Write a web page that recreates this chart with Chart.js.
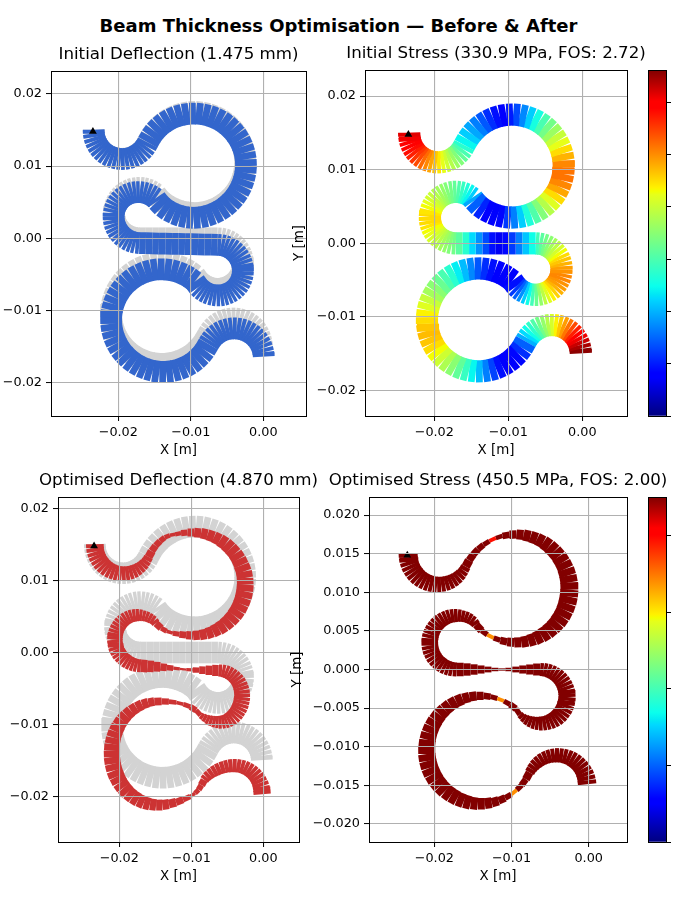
<!DOCTYPE html>
<html>
<head>
<meta charset="utf-8">
<title>Beam Thickness Optimisation</title>
<script src="https://cdn.jsdelivr.net/npm/chart.js@4"></script>
<style>
    html, body { margin: 0; padding: 0; background: #fff; overflow: hidden; }
    #page { position: relative; width: 675px; height: 900px; overflow: hidden; }
    #page canvas { position: absolute; }
    #suptitle {
        position: absolute; left: 0; width: 677px; top: 15px; text-align: center;
        font: bold 18px "DejaVu Sans"; color: #000; white-space: nowrap;
    }
</style>
</head>
<body>
<div id="page"><div id="suptitle">Beam Thickness Optimisation — Before &amp; After</div></div>
<script>
// all beam values in mm, one row per bend of the spring
const baseX = [
    -23.40,-23.38,-23.30,-23.15,-22.94,-22.67,-22.35,-21.98,-21.57,-21.12,-20.64,-20.14,-19.64,-19.13,-18.62,-18.13,-17.67,-17.24,-16.84,-16.49,-16.19,-15.93,
    -15.49,-14.96,-14.34,-13.64,-12.87,-12.04,-11.17,-10.27,-9.35,-8.44,-7.55,-6.69,-5.87,-5.12,-4.45,-3.86,-3.37,-2.98,-2.70,-2.54,-2.50,-2.58,-2.78,-3.09,-3.51,-4.04,-4.66,-5.36,-6.13,-6.96,-7.83,-8.73,-9.65,-10.56,-11.45,-12.31,-13.13,-13.88,-14.60,
    -14.87,-15.25,-15.65,-16.08,-16.53,-16.98,-17.45,-17.91,-18.34,-18.76,-19.16,-19.51,-19.82,-20.09,-20.30,-20.46,-20.56,-20.60,-20.58,-20.50,-20.36,-20.16,-19.91,-19.61,-19.26,-18.88,-18.47,-18.04,-17.59,-17.10,
    -16.20,-15.30,-14.40,-13.50,-12.60,-11.70,-10.80,-9.90,-9.00,-8.10,-7.20,-6.30,
    -5.84,-5.38,-4.94,-4.53,-4.15,-3.80,-3.50,-3.24,-3.05,-2.90,-2.82,-2.80,-2.84,-2.94,-3.10,-3.32,-3.59,-3.90,-4.26,-4.66,-5.08,-5.52,-5.98,-6.45,-6.91,-7.36,-7.79,-8.20,-8.57,-8.91,
    -9.44,-10.18,-10.98,-11.83,-12.71,-13.62,-14.54,-15.44,-16.33,-17.17,-17.96,-18.67,-19.32,-19.86,-20.31,-20.65,-20.88,-20.99,-20.98,-20.85,-20.60,-20.24,-19.78,-19.21,-18.56,-17.82,-17.02,-16.17,-15.29,-14.38,-13.46,-12.56,-11.67,-10.83,-10.04,-9.33,-8.68,-8.14,-7.65,
    -7.39,-7.08,-6.72,-6.31,-5.86,-5.38,-4.88,-4.37,-3.85,-3.33,-2.83,-2.35,-1.90,-1.49,-1.13,-0.82,-0.57,-0.38,-0.26,-0.20,
];
const baseY = [
    15.04,14.53,14.02,13.53,13.07,12.64,12.24,11.89,11.59,11.35,11.17,11.05,11.00,11.02,11.10,11.25,11.46,11.73,12.05,12.42,12.83,13.33,
    14.13,14.88,15.55,16.14,16.63,17.02,17.30,17.46,17.50,17.42,17.22,16.91,16.49,15.96,15.34,14.64,13.87,13.04,12.17,11.27,10.35,9.44,8.55,7.69,6.87,6.12,5.45,4.86,4.37,3.98,3.70,3.54,3.50,3.58,3.78,4.09,4.51,5.04,5.80,
    6.20,6.47,6.69,6.85,6.95,7.00,6.98,6.91,6.77,6.58,6.33,6.04,5.70,5.32,4.91,4.48,4.03,3.57,3.11,2.65,2.22,1.80,1.41,1.06,0.75,0.49,0.28,0.13,0.03,0.00,
    0,0,0,0,0,0,0,0,0,0,0,0,
    -0.03,-0.12,-0.27,-0.48,-0.74,-1.05,-1.40,-1.79,-2.21,-2.65,-3.11,-3.57,-4.04,-4.49,-4.92,-5.33,-5.71,-6.05,-6.35,-6.59,-6.78,-6.91,-6.99,-7.00,-6.95,-6.84,-6.67,-6.44,-6.17,-5.84,
    -5.08,-4.54,-4.09,-3.75,-3.52,-3.41,-3.42,-3.55,-3.80,-4.16,-4.62,-5.19,-5.84,-6.58,-7.38,-8.23,-9.11,-10.02,-10.94,-11.84,-12.73,-13.57,-14.36,-15.07,-15.72,-16.26,-16.71,-17.05,-17.28,-17.39,-17.38,-17.25,-17.00,-16.64,-16.18,-15.61,-14.96,-14.22,-13.35,
    -12.90,-12.48,-12.11,-11.79,-11.52,-11.32,-11.18,-11.11,-11.11,-11.18,-11.31,-11.52,-11.78,-12.10,-12.47,-12.89,-13.35,-13.83,-14.34,-14.86,
];
const initDx = [
    0,0,0,0,0,0,0,0,0,0,0,0,0,0,0,0,0,0,0,0,0,0,
    0,0,.01,.01,.02,.03,.04,.05,.06,.07,.08,.09,.1,.1,.11,.11,.12,.12,.12,.12,.12,.12,.11,.11,.1,.09,.08,.07,.06,.05,.04,.03,.02,.01,0,0,0,0,0,
    0,-.02,-.03,-.04,-.05,-.06,-.06,-.07,-.07,-.08,-.08,-.08,-.08,-.07,-.07,-.06,-.06,-.05,-.05,-.04,-.03,-.02,-.02,-.01,0,0,0,0,0,0,
    0,0,0,0,0,0,0,0,0,0,0,0,
    0,0,0,0,0,0,0,0,0,0,0,0,0,0,0,0,0,0,0,0,0,0,0,0,0,0,0,0,0,0,
    0,0,0,0,0,0,0,0,0,0,0,0,0,0,0,0,0,0,0,0,0,.01,.01,.02,.02,.03,.03,.04,.04,.05,.05,.06,.06,.07,.07,.08,.08,.09,.09,
    .1,.1,.11,.12,.13,.14,.15,.16,.17,.18,.19,.2,.21,.22,.23,.24,.25,.25,.26,.26,
];
const initDy = [
    0,0,-.01,-.01,-.01,-.02,-.02,-.02,-.02,-.02,-.02,-.02,-.02,-.03,-.03,-.03,-.03,-.03,-.04,-.04,-.05,-.05,
    -.06,-.07,-.09,-.11,-.13,-.15,-.18,-.2,-.22,-.24,-.25,-.26,-.27,-.28,-.29,-.3,-.31,-.32,-.33,-.34,-.35,-.37,-.39,-.41,-.43,-.46,-.49,-.52,-.55,-.58,-.61,-.64,-.66,-.67,-.68,-.68,-.68,-.67,-.66,
    -.65,-.64,-.63,-.62,-.6,-.59,-.58,-.57,-.55,-.55,-.54,-.53,-.53,-.53,-.53,-.53,-.54,-.55,-.55,-.56,-.57,-.58,-.59,-.6,-.61,-.62,-.63,-.64,-.65,-.66,
    -.68,-.7,-.72,-.74,-.76,-.78,-.8,-.82,-.84,-.86,-.88,-.9,
    -.9,-.91,-.92,-.93,-.94,-.95,-.96,-.96,-.97,-.97,-.98,-.98,-.98,-.98,-.98,-.98,-.98,-.97,-.96,-.95,-.94,-.93,-.92,-.92,-.91,-.91,-.9,-.9,-.9,-.9,
    -.9,-.9,-.9,-.89,-.89,-.89,-.88,-.88,-.88,-.88,-.88,-.88,-.88,-.88,-.88,-.88,-.88,-.89,-.9,-.91,-.92,-.94,-.96,-.98,-1,-1.02,-1.04,-1.06,-1.08,-1.1,-1.12,-1.14,-1.16,-1.18,-1.2,-1.22,-1.24,-1.26,-1.28,
    -1.29,-1.3,-1.31,-1.32,-1.33,-1.34,-1.35,-1.36,-1.37,-1.38,-1.39,-1.4,-1.41,-1.42,-1.43,-1.43,-1.44,-1.44,-1.45,-1.45,
];
const optDx = [
    0,0,0,0,0,0,0,0,0,0,0,0,0,0,0,0,0,0,0,0,0,0,
    0,0,0,-.05,-.1,-.2,-.25,-.25,-.25,-.2,-.2,-.15,-.15,-.1,-.1,-.05,-.05,-.05,0,0,0,0,0,0,0,0,0,0,-.05,-.05,-.05,-.1,-.1,-.15,-.2,-.25,-.3,-.3,-.3,
    -.3,-.3,-.3,-.3,-.28,-.27,-.26,-.24,-.22,-.2,-.18,-.15,-.12,-.1,-.08,-.05,-.03,-.02,0,0,0,.02,.03,.05,.07,.1,.1,.1,.1,.1,
    .1,.1,.1,.1,.1,.1,.1,.1,.1,.1,.1,.1,
    .1,.08,.06,.04,.02,0,-.02,-.05,-.08,-.1,-.12,-.14,-.16,-.16,-.14,-.12,-.1,-.05,0,.05,.1,.15,.2,.25,.3,.3,.3,.3,.25,.2,
    .1,.05,-.1,-.25,-.4,-.5,-.6,-.55,-.5,-.45,-.4,-.35,-.3,-.25,-.2,-.15,-.1,-.07,-.05,-.05,-.08,-.1,-.15,-.2,-.25,-.3,-.35,-.4,-.45,-.5,-.55,-.55,-.45,-.3,-.1,-.15,-.3,-.45,-.55,
    -.5,-.4,-.3,-.2,-.1,0,.05,.1,.15,.17,.17,.17,.17,.15,.14,.12,.1,.08,.06,.05,
];
const optDy = [
    0,0,-.01,-.01,-.01,-.02,-.02,-.02,-.03,-.03,-.03,-.04,-.04,-.04,-.04,-.05,-.05,-.05,-.05,-.05,-.05,-.05,
    -.05,-.05,-.08,-.15,-.35,-.6,-.72,-.78,-.83,-.84,-.85,-.86,-.87,-.88,-.89,-.9,-.9,-.91,-.92,-.92,-.92,-.93,-.94,-.95,-.97,-.99,-1.01,-1.03,-1.06,-1.08,-1.1,-1.12,-1.14,-1.17,-1.25,-1.4,-1.55,-1.65,-1.75,
    -1.78,-1.8,-1.8,-1.8,-1.8,-1.8,-1.8,-1.8,-1.8,-1.8,-1.8,-1.8,-1.8,-1.8,-1.8,-1.8,-1.8,-1.8,-1.8,-1.8,-1.8,-1.8,-1.8,-1.8,-1.81,-1.82,-1.83,-1.84,-1.85,-1.85,
    -1.9,-1.95,-2,-2.08,-2.18,-2.28,-2.38,-2.42,-2.45,-2.47,-2.49,-2.5,
    -2.5,-2.5,-2.52,-2.53,-2.54,-2.55,-2.56,-2.57,-2.58,-2.58,-2.6,-2.6,-2.6,-2.6,-2.62,-2.62,-2.63,-2.64,-2.65,-2.66,-2.67,-2.68,-2.68,-2.68,-2.7,-2.72,-2.75,-2.78,-2.82,-2.88,
    -2.95,-3,-3.1,-3.2,-3.3,-3.38,-3.4,-3.42,-3.45,-3.48,-3.5,-3.52,-3.55,-3.58,-3.6,-3.6,-3.6,-3.6,-3.6,-3.62,-3.65,-3.68,-3.7,-3.72,-3.74,-3.76,-3.78,-3.8,-3.8,-3.8,-3.8,-3.8,-3.8,-3.8,-3.82,-3.95,-4.1,-4.2,-4.35,
    -4.4,-4.45,-4.5,-4.53,-4.55,-4.57,-4.58,-4.59,-4.6,-4.62,-4.64,-4.66,-4.68,-4.7,-4.72,-4.74,-4.76,-4.78,-4.8,-4.82,
];
const optThickness = [
    2.45,2.45,2.4,2.4,2.35,2.35,2.3,2.25,2.2,2.15,2.1,2.05,2,1.95,1.9,1.85,1.75,1.65,1.55,1.4,1.3,1.15,
    1,.9,.8,.65,.5,.6,.85,1.1,1.3,1.45,1.55,1.65,1.8,1.9,1.95,2.05,2.1,2.2,2.25,2.3,2.35,2.35,2.3,2.25,2.2,2.1,2,1.9,1.75,1.6,1.45,1.3,1.15,.95,.7,.5,.7,1,1.2,
    1.3,1.4,1.45,1.5,1.6,1.7,1.75,1.8,1.85,1.9,1.95,2,2,2.05,2.1,2.15,2.15,2.15,2.15,2.15,2.1,2.1,2.05,2,2,1.95,1.9,1.85,1.8,1.75,
    1.6,1.35,1.05,.75,.45,.3,.45,.75,1.05,1.3,1.55,1.7,
    1.75,1.8,1.85,1.9,1.95,2,2.05,2.1,2.15,2.2,2.2,2.25,2.25,2.25,2.25,2.2,2.2,2.15,2.1,2.05,1.95,1.85,1.8,1.7,1.6,1.45,1.3,1.1,.9,.7,
    .85,.65,.5,.65,.85,1.05,1.2,1.35,1.5,1.6,1.7,1.8,1.9,2,2.05,2.1,2.15,2.2,2.25,2.25,2.25,2.2,2.15,2.1,2,1.95,1.85,1.75,1.6,1.5,1.4,1.2,1,.75,.5,.7,.85,1.05,1.3,
    1.4,1.5,1.6,1.65,1.7,1.75,1.8,1.85,1.85,1.9,1.95,2,2.05,2.1,2.15,2.2,2.3,2.35,2.4,2.45,
];
// MPa
const initStress = [
    308,304,301,298,291,285,278,271,261,252,242,232,222,212,202,192,182,172,159,149,136,122,
    109,96,83,70,56,46,40,50,66,86,109,129,149,166,182,199,212,225,238,252,258,258,252,242,225,209,192,172,152,132,109,83,60,43,36,40,53,73,96,
    109,122,132,142,152,159,166,172,179,185,192,199,205,212,215,222,225,225,225,222,215,212,205,199,192,185,179,172,166,156,
    136,113,89,66,46,33,43,60,83,106,126,146,
    156,166,175,185,195,205,215,225,232,238,245,248,252,252,248,245,238,228,218,209,195,179,162,146,126,109,89,73,60,46,
    40,36,40,46,56,70,86,103,119,136,149,162,175,185,199,209,218,225,232,235,232,225,215,202,189,175,159,142,122,103,83,63,46,36,36,43,56,73,99,
    113,126,139,152,166,179,192,205,218,232,245,258,271,285,295,305,314,321,328,331,
];
const optStress = [
    450,450,450,450,450,450,450,450,450,450,450,450,450,450,450,450,450,450,450,450,450,450,
    450,450,450,450,395,450,450,450,450,450,450,450,450,450,450,450,450,450,450,450,450,450,450,450,450,450,450,450,450,450,450,450,450,450,450,340,450,450,450,
    450,450,450,450,450,450,450,450,450,450,450,450,450,450,450,450,450,450,450,450,450,450,450,450,450,450,450,450,450,450,
    450,450,450,450,450,450,450,450,450,450,450,450,
    450,450,450,450,450,450,450,450,450,450,450,450,450,450,450,450,450,450,450,450,450,450,450,450,450,450,450,450,450,450,
    450,450,340,450,450,450,450,450,450,450,450,450,450,450,450,450,450,450,450,450,450,450,450,450,450,450,450,450,450,450,450,450,450,450,340,450,450,450,450,
    450,450,450,450,450,450,450,450,450,450,450,450,450,450,450,450,450,450,450,450,
];
const nominalThickness = 3;
const supportX = [-23.5];
const supportY = [14.8];

const xTicks = [-0.02, -0.01, 0];
const yTicksCoarse = [-0.02, -0.01, 0, 0.01, 0.02];
const yTicksFine = [-0.02, -0.015, -0.01, -0.005, 0, 0.005, 0.01, 0.015, 0.02];
const initStressTicks = [0, 50, 100, 150, 200, 250, 300];
const optStressTicks = [0, 100, 200, 300, 400];

const jetStops = [0, 0.11, 0.125, 0.34, 0.35, 0.375, 0.64, 0.65, 0.66, 0.89, 0.91, 1];
const jetColors = [
    [0, 0, 128], [0, 0, 255], [0, 0, 255], [0, 217, 255], [0, 229, 246], [10, 255, 237],
    [230, 255, 26], [242, 255, 0], [255, 241, 0], [255, 0, 0], [255, 0, 0], [128, 0, 0],
];

function jet(t) {
    t = Math.min(1, Math.max(0, t));
    let i = 0;
    while (i < jetStops.length - 2 && t > jetStops[i + 1]) i++;
    const f = (t - jetStops[i]) / (jetStops[i + 1] - jetStops[i]);
    const c = jetColors[i].map((v, k) => Math.round(v + (jetColors[i + 1][k] - v) * f));
    return "rgb(" + c.join(",") + ")";
}

const TITLE_H = 26;
const FONT = "'DejaVu Sans'";

// one two-point line per beam element, so the butt ends leave the wedge gaps
function beamLines(xs, ys, widthAt, colorAt, pxPerM) {
    const out = [];
    for (let i = 0; i < baseX.length - 1; i++) {
        out.push({
            data: [
                { x: xs(i) / 1000, y: ys(i) / 1000 },
                { x: xs(i + 1) / 1000, y: ys(i + 1) / 1000 },
            ],
            showLine: true,
            pointRadius: 0,
            borderColor: colorAt(i),
            borderWidth: widthAt(i) / 1000 * pxPerM,
            borderCapStyle: "butt",
            borderJoinStyle: "bevel",
        });
    }
    return out;
}

const framePlugin = {
    id: "frame",
    afterLayout(chart) {
        // title centred on the whole canvas, not on the padded part
        if (chart.titleBlock) {
            chart.titleBlock.left = 0;
            chart.titleBlock.right = chart.width;
        }
    },
    afterDraw(chart) {
        const a = chart.chartArea;
        const c = chart.ctx;
        c.save();
        c.strokeStyle = "#000";
        c.lineWidth = 1;
        c.strokeRect(Math.round(a.left) + 0.5, Math.round(a.top) + 0.5, Math.round(a.right - a.left), Math.round(a.bottom - a.top));
        c.restore();
    },
};

function addCanvas(left, top, width, height) {
    const cv = document.createElement("canvas");
    cv.width = width;
    cv.height = height;
    cv.style.left = left + "px";
    cv.style.top = top + "px";
    cv.style.width = width + "px";
    cv.style.height = height + "px";
    document.getElementById("page").appendChild(cv);
    return cv.getContext("2d");
}

function tickText(decimals) {
    return (v) => Number(v).toFixed(decimals).replace("-", "\u2212");
}

function panel(p, makeDatasets) {
    const w = p.right - p.left;
    const h = p.bottom - p.top;
    const ctx = addCanvas(p.left - p.yW, p.top - TITLE_H, w + 2 * p.yW, TITLE_H + h + 46);
    const pxPerM = w / (p.xlim[1] - p.xlim[0]);
    const gridOpts = { color: "#b0b0b0", lineWidth: 1.1, z: 1, tickColor: "#000", tickLength: 5, tickWidth: 1 };
    new Chart(ctx, {
        type: "scatter",
        data: {
            datasets: [
                {
                    data: supportX.map((x, i) => ({ x: x / 1000, y: supportY[i] / 1000 })),
                    pointStyle: "triangle",
                    pointRadius: 4.5,
                    pointBackgroundColor: "#000",
                    pointBorderColor: "#000",
                    pointBorderWidth: 0,
                },
                ...makeDatasets(pxPerM),
            ],
        },
        options: {
            responsive: false,
            animation: false,
            devicePixelRatio: 1,
            layout: { padding: { left: 0, right: p.yW, top: 0, bottom: 0 } },
            plugins: {
                legend: { display: false },
                tooltip: { enabled: false },
                title: {
                    display: true,
                    text: p.title,
                    color: "#000",
                    font: { family: FONT, size: 16.67, weight: "normal" },
                    padding: { top: 0, bottom: 6 },
                },
            },
            scales: {
                x: {
                    type: "linear",
                    min: p.xlim[0],
                    max: p.xlim[1],
                    grid: gridOpts,
                    border: { display: false },
                    afterBuildTicks: (s) => { s.ticks = xTicks.map((v) => ({ value: v })); },
                    afterFit: (s) => { s.height = 46; },
                    ticks: { color: "#000", font: { family: FONT, size: 12.8 }, padding: 4, maxRotation: 0, autoSkip: false, callback: tickText(2) },
                    title: { display: true, text: "X [m]", color: "#000", font: { family: FONT, size: 13.4 }, padding: { top: 2, bottom: 3 } },
                },
                y: {
                    type: "linear",
                    min: p.ylim[0],
                    max: p.ylim[1],
                    grid: gridOpts,
                    border: { display: false },
                    afterBuildTicks: (s) => { s.ticks = p.yTicks.map((v) => ({ value: v })); },
                    afterFit: (s) => { s.width = p.yW; },
                    ticks: { color: "#000", font: { family: FONT, size: 12.8 }, padding: 4, autoSkip: false, callback: tickText(p.yDecimals) },
                    title: { display: !!p.yTitle, text: "Y [m]", color: "#000", font: { family: FONT, size: 13.4 }, padding: { top: p.yTitlePad || 0, bottom: 0 } },
                },
            },
        },
        plugins: [framePlugin],
    });
}

function colorbar(left, top, bottom, vmax, ticks) {
    const ctx = addCanvas(left, top - 1, 24, bottom - top + 2);
    new Chart(ctx, {
        type: "bar",
        data: {
            labels: ["stress"],
            datasets: [{
                data: [[0, vmax]],
                barPercentage: 1,
                categoryPercentage: 1,
                backgroundColor: (c) => {
                    const a = c.chart.chartArea;
                    if (!a) return "#fff";
                    const g = c.chart.ctx.createLinearGradient(0, a.bottom, 0, a.top);
                    jetStops.forEach((s) => g.addColorStop(s, jet(s)));
                    return g;
                },
            }],
        },
        options: {
            responsive: false,
            animation: false,
            devicePixelRatio: 1,
            layout: { padding: { top: 1, bottom: 1 } },
            plugins: { legend: { display: false }, tooltip: { enabled: false } },
            scales: {
                x: { display: false },
                y: {
                    position: "right",
                    min: 0,
                    max: vmax,
                    grid: { drawOnChartArea: false, tickColor: "#000", tickLength: 5 },
                    border: { display: false },
                    afterBuildTicks: (s) => { s.ticks = ticks.map((v) => ({ value: v })); },
                    afterFit: (s) => { s.width = 6; },
                    ticks: { display: false },
                },
            },
        },
        plugins: [framePlugin],
    });
}

const greyBeam = (pxPerM) => beamLines((i) => baseX[i], (i) => baseY[i], () => nominalThickness, () => "#d3d3d3", pxPerM);

panel({
    left: 51, right: 306, top: 71, bottom: 416, yW: 51,
    xlim: [-0.02928, 0.00589], ylim: [-0.02461, 0.02317],
    yTicks: yTicksCoarse, yDecimals: 2,
    title: "Initial Deflection (1.475 mm)",
}, (pxPerM) => [
    ...beamLines((i) => baseX[i] + initDx[i], (i) => baseY[i] + initDy[i], () => nominalThickness, () => "#3366cc", pxPerM),
    ...greyBeam(pxPerM),
]);

panel({
    left: 365, right: 627, top: 70, bottom: 416, yW: 75, yTitle: true, yTitlePad: 1,
    xlim: [-0.02936, 0.00604], ylim: [-0.02346, 0.02355],
    yTicks: yTicksCoarse, yDecimals: 2,
    title: "Initial Stress (330.9 MPa, FOS: 2.72)",
}, (pxPerM) => beamLines((i) => baseX[i], (i) => baseY[i], () => nominalThickness, (i) => jet(initStress[i] / 330.9), pxPerM));

panel({
    left: 58, right: 299, top: 497, bottom: 842, yW: 58,
    xlim: [-0.02851, 0.00496], ylim: [-0.02632, 0.0216],
    yTicks: yTicksCoarse, yDecimals: 2,
    title: "Optimised Deflection (4.870 mm)",
}, (pxPerM) => [
    ...beamLines((i) => baseX[i] + optDx[i], (i) => baseY[i] + optDy[i], (i) => optThickness[i], () => "#cc3333", pxPerM),
    ...greyBeam(pxPerM),
]);

panel({
    left: 369, right: 627, top: 497, bottom: 842, yW: 80, yTitle: true, yTitlePad: 0,
    xlim: [-0.02846, 0.00496], ylim: [-0.02234, 0.02234],
    yTicks: yTicksFine, yDecimals: 3,
    title: "Optimised Stress (450.5 MPa, FOS: 2.00)",
}, (pxPerM) => beamLines((i) => baseX[i], (i) => baseY[i], (i) => optThickness[i], (i) => jet(optStress[i] / 450.5), pxPerM));

colorbar(648, 70, 416, 330.9, initStressTicks);
colorbar(648, 497, 842, 450.5, optStressTicks);
</script>
</body>
</html>
